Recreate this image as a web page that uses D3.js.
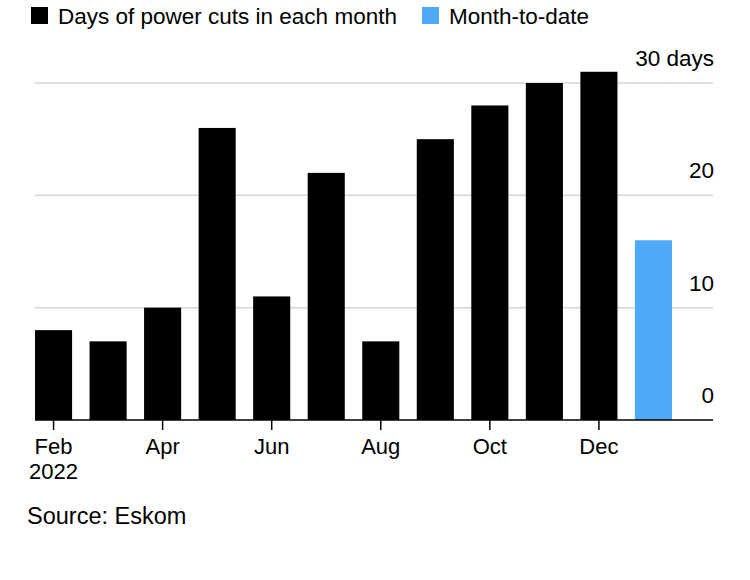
<!DOCTYPE html>
<html>
<head>
<meta charset="utf-8">
<script src="https://cdn.jsdelivr.net/npm/d3@7"></script>
<style>
  body { margin: 0; background: #fff; }
  svg { font-family: "Liberation Sans", Arial, sans-serif; }
</style>
</head>
<body>
<div id="chart"></div>
<script>
const months = ['Feb', 'Mar', 'Apr', 'May', 'Jun', 'Jul', 'Aug', 'Sep', 'Oct', 'Nov', 'Dec', 'Jan'];
const days = [8, 7, 10, 26, 11, 22, 7, 25, 28, 30, 31, 16];
const partial = [false, false, false, false, false, false, false, false, false, false, false, true];
const tickMonths = ['Feb', 'Apr', 'Jun', 'Aug', 'Oct', 'Dec'];
const yTicks = [0, 10, 20, 30];
const legendItems = ['Days of power cuts in each month', 'Month-to-date'];

const W = 750, H = 580;
const blue = '#4eaaf6';
const svg = d3.select('#chart').append('svg')
  .attr('width', W)
  .attr('height', H);

const x = d3.scaleBand()
  .domain(months)
  .range([35, 672])
  .paddingInner(0.32)
  .paddingOuter(0);

const y = d3.scaleLinear()
  .domain([0, 30])
  .range([420, 83]);

const left = 35, right = 713;

// gridlines
svg.append('g')
  .selectAll('line')
  .data(yTicks.filter(d => d > 0))
  .join('line')
  .attr('x1', left).attr('x2', right)
  .attr('y1', d => y(d)).attr('y2', d => y(d))
  .attr('stroke', '#d6d6d6')
  .attr('stroke-width', 1.5);

// y labels
svg.append('g')
  .selectAll('text')
  .data(yTicks)
  .join('text')
  .attr('x', right + 1)
  .attr('y', d => y(d) - 17)
  .attr('text-anchor', 'end')
  .attr('font-size', 22.5)
  .attr('fill', '#000')
  .text(d => d === 30 ? '30 days' : d);

// bars
svg.append('g')
  .selectAll('rect')
  .data(months)
  .join('rect')
  .attr('x', d => x(d))
  .attr('width', x.bandwidth())
  .attr('y', (d, i) => y(days[i]))
  .attr('height', (d, i) => y(0) - y(days[i]))
  .attr('fill', (d, i) => partial[i] ? blue : '#000');

// x axis
const xAxis = d3.axisBottom(x)
  .tickValues(tickMonths)
  .tickSize(10)
  .tickSizeOuter(0)
  .tickPadding(8);

const gx = svg.append('g')
  .attr('transform', `translate(0,${y(0)})`)
  .call(xAxis);
gx.select('.domain').remove();
gx.append('line')
  .attr('x1', left).attr('x2', right)
  .attr('stroke', '#000').attr('stroke-width', 1.5);
gx.selectAll('.tick line').attr('stroke', '#000').attr('stroke-width', 1.5);
gx.selectAll('.tick text')
  .attr('font-size', 22)
  .attr('font-family', '"Liberation Sans", Arial, sans-serif')
  .attr('fill', '#000');
gx.selectAll('.tick').filter(d => d === 'Feb').select('text')
  .append('tspan')
  .attr('x', 0)
  .attr('dy', 25)
  .text('2022');

// legend
const legend = svg.append('g');
const lx = [31, 422];
legendItems.forEach((t, i) => {
  legend.append('rect')
    .attr('x', lx[i]).attr('y', 7)
    .attr('width', 17).attr('height', 17)
    .attr('fill', i === 0 ? '#000' : blue);
  legend.append('text')
    .attr('x', lx[i] + 27).attr('y', 24)
    .attr('font-size', 22.5)
    .attr('fill', '#000')
    .text(t);
});

// source
svg.append('text')
  .attr('x', 27).attr('y', 524)
  .attr('font-size', 23.5)
  .attr('fill', '#000')
  .text('Source: Eskom');
</script>
</body>
</html>
